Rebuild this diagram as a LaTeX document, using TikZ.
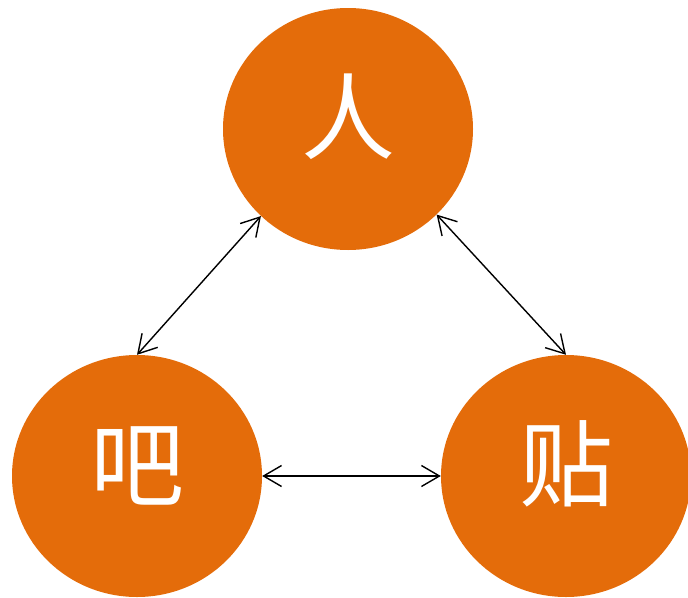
\documentclass[tikz,border=0pt]{standalone}
\usepackage{fontspec}
\newfontfamily\cjk{Noto Sans CJK SC}
\usetikzlibrary{shapes.geometric,arrows.meta}
\definecolor{org}{HTML}{E46C0A}
\begin{document}
\begin{tikzpicture}[x=1pt,y=-1pt,
  blob/.style={ellipse,fill=org,minimum width=250pt,minimum height=242pt,inner sep=0pt,
    text=white,text height=83pt,text depth=37pt,font=\cjk\fontsize{94}{94}\selectfont},
  link/.style={{Straight Barb[length=18pt,width=21pt]}-{Straight Barb[length=18pt,width=21pt]},line width=1.4pt,black}]
\useasboundingbox (0,0) rectangle (688,597);
\node[blob] (ren) at (348,129) {人};
\node[blob] (ba) at (137,476) {吧};
\node[blob] (tie) at (566,476) {贴};
\draw[link] (ren.225) -- (ba.north);
\draw[link] (ren.-44) -- (tie.north);
\draw[link] (ba.east) -- (tie.west);
\end{tikzpicture}
\end{document}
